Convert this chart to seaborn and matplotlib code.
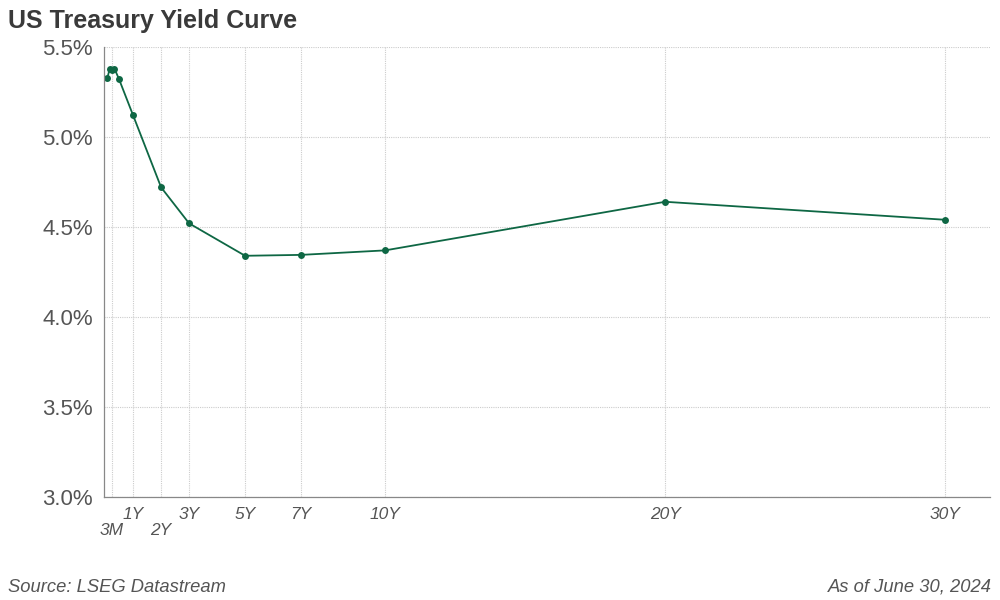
import matplotlib
matplotlib.use('Agg')
import matplotlib.pyplot as plt
import seaborn as sns
import pandas as pd

# Maturities in years and yields (%)
maturity_years = [1/12, 2/12, 3/12, 4/12, 6/12, 1, 2, 3, 5, 7, 10, 20, 30]
yields = [5.33, 5.38, 5.37, 5.38, 5.32, 5.12, 4.72, 4.52, 4.34, 4.345, 4.37, 4.64, 4.54]

tick_pos = [0.25, 1, 2, 3, 5, 7, 10, 20, 30]
tick_labels = ['3M', '1Y', '2Y', '3Y', '5Y', '7Y', '10Y', '20Y', '30Y']
low_row = ['3M', '2Y']

y_ticks = [3.0, 3.5, 4.0, 4.5, 5.0, 5.5]

sns.set_style('white')
plt.rcParams['font.family'] = ['Liberation Sans', 'DejaVu Sans']

line_color = '#0e6744'
text_color = '#555555'
grid_color = '#cccccc'

df = pd.DataFrame({'maturity': maturity_years, 'yield': yields})

fig = plt.figure(figsize=(10, 6), dpi=100)
ax = fig.add_axes([0.104, 0.1717, 0.886, 0.75])

sns.lineplot(data=df, x='maturity', y='yield', ax=ax, color=line_color,
             linewidth=1.3, marker='o', markersize=5, markeredgewidth=0)

ax.set_xlim(-0.04, 31.6)
ax.set_ylim(3.0, 5.5)
ax.set_yticks(y_ticks)
ax.set_yticklabels([f'{v:.1f}%' for v in y_ticks], fontsize=16, color=text_color)
ax.set_xticks(tick_pos)
ax.set_xticklabels([])
ax.set_xlabel('')
ax.set_ylabel('')

for x, lab in zip(tick_pos, tick_labels):
    off = -24 if lab in low_row else -12.5
    ax.annotate(lab, xy=(x, 3.0), xytext=(0, off), textcoords='offset points',
                ha='center', va='center', fontsize=12.5, style='italic', color=text_color)

ax.grid(True, color=grid_color, linestyle=(0, (1, 1)), linewidth=0.8)
ax.set_axisbelow(True)
for side in ['top', 'right']:
    ax.spines[side].set_visible(False)
for side in ['left', 'bottom']:
    ax.spines[side].set_color('#888888')
    ax.spines[side].set_linewidth(0.9)
ax.tick_params(axis='y', length=4, color='#888888', width=0.9, pad=4)
ax.tick_params(axis='x', length=0)

fig.text(0.008, 0.965, 'US Treasury Yield Curve', fontsize=18, fontweight='bold',
         color='#3a3a3a', ha='left', va='center')
fig.text(0.008, 0.021, 'Source: LSEG Datastream', fontsize=13.2, style='italic',
         color=text_color, ha='left', va='center')
fig.text(0.992, 0.021, 'As of June 30, 2024', fontsize=13.2, style='italic',
         color=text_color, ha='right', va='center')

fig.savefig('out.png', dpi=100)
